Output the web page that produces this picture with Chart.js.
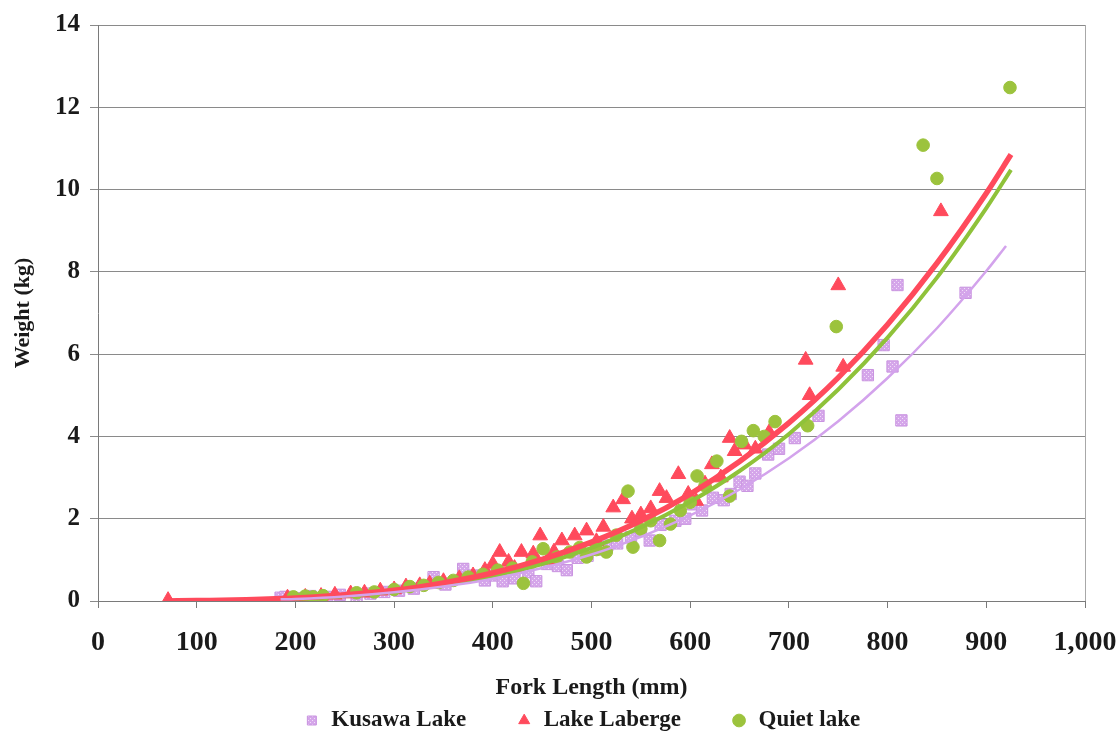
<!DOCTYPE html>
<html>
<head>
<meta charset="utf-8">
<title>Fork length vs weight</title>
<script src="https://cdn.jsdelivr.net/npm/chart.js@4.4.1/dist/chart.umd.min.js"></script>
<style>
  html, body { margin: 0; padding: 0; background: #fff; }
  canvas { display: block; }
</style>
</head>
<body>
<canvas id="weightChart" width="1118" height="742"></canvas>
<script>
// Fork length (mm) and weight (kg) per lake
const kusawaLength = [185, 190, 205, 215, 232, 245, 262, 276, 290, 305, 320, 340, 352, 370, 380, 392, 402, 410, 422, 436, 444, 455, 466, 475, 486, 496, 506, 516, 526, 540, 550, 559, 570, 585, 595, 603, 612, 623, 634, 641, 650, 658, 666, 679, 690, 706, 730, 780, 796, 805, 810, 814, 879];
const kusawaWeight = [0.08, 0.10, 0.07, 0.12, 0.10, 0.15, 0.05, 0.18, 0.22, 0.25, 0.30, 0.58, 0.40, 0.78, 0.62, 0.50, 0.62, 0.48, 0.55, 0.70, 0.48, 0.90, 0.85, 0.75, 1.05, 1.10, 1.25, 1.35, 1.40, 1.55, 1.70, 1.47, 1.85, 1.95, 2.00, 2.35, 2.20, 2.51, 2.45, 2.60, 2.90, 2.80, 3.10, 3.56, 3.70, 3.96, 4.50, 5.49, 6.22, 5.70, 7.68, 4.39, 7.49];

const labergeLength = [71, 192, 210, 226, 240, 256, 270, 286, 300, 312, 326, 336, 350, 366, 380, 392, 400, 407, 416, 422, 429, 441, 448, 456, 462, 470, 483, 495, 505, 512, 522, 532, 541, 550, 560, 569, 576, 588, 598, 606, 615, 622, 631, 640, 645, 655, 666, 680, 717, 721, 750, 755, 854];
const labergeWeight = [0.02, 0.08, 0.10, 0.12, 0.15, 0.18, 0.20, 0.25, 0.28, 0.35, 0.38, 0.42, 0.48, 0.55, 0.62, 0.75, 0.90, 1.19, 0.95, 0.80, 1.19, 1.15, 1.59, 1.00, 1.20, 1.47, 1.59, 1.71, 1.45, 1.80, 2.27, 2.47, 2.00, 2.10, 2.25, 2.67, 2.50, 3.08, 2.60, 2.43, 2.85, 3.32, 3.00, 3.96, 3.64, 3.80, 3.70, 4.10, 5.86, 5.00, 7.67, 5.69, 9.47];

const quietLength = [198, 210, 218, 228, 262, 280, 300, 316, 330, 345, 360, 375, 390, 405, 420, 431, 440, 451, 465, 478, 488, 495, 505, 515, 525, 537, 542, 550, 560, 569, 580, 590, 600, 607, 615, 627, 640, 652, 664, 675, 686, 719, 748, 836, 850, 924];
const quietWeight = [0.10, 0.12, 0.10, 0.13, 0.20, 0.22, 0.28, 0.35, 0.38, 0.45, 0.50, 0.58, 0.65, 0.75, 0.80, 0.43, 0.95, 1.27, 1.07, 1.19, 1.30, 1.07, 1.25, 1.19, 1.60, 2.67, 1.31, 1.75, 1.95, 1.47, 1.87, 2.20, 2.40, 3.04, 2.80, 3.40, 2.55, 3.88, 4.14, 4.00, 4.36, 4.26, 6.67, 11.08, 10.27, 12.48];

// power trend lines, sampled along each curve
const kusawaFitLength = [185, 200, 250, 300, 350, 400, 450, 500, 550, 600, 650, 700, 750, 800, 850, 900, 920];
const kusawaFitWeight = [0.04, 0.05, 0.11, 0.21, 0.35, 0.54, 0.80, 1.13, 1.56, 2.08, 2.71, 3.47, 4.37, 5.42, 6.63, 8.02, 8.63];
const labergeFitLength = [70, 100, 150, 200, 250, 300, 350, 400, 450, 500, 550, 600, 650, 700, 750, 800, 850, 900, 925];
const labergeFitWeight = [0.00, 0.01, 0.03, 0.07, 0.15, 0.26, 0.44, 0.68, 1.01, 1.43, 1.95, 2.60, 3.39, 4.33, 5.43, 6.72, 8.21, 9.91, 10.85];
const quietFitLength = [200, 250, 300, 350, 400, 450, 500, 550, 600, 650, 700, 750, 800, 850, 900, 925];
const quietFitWeight = [0.06, 0.12, 0.23, 0.39, 0.61, 0.90, 1.29, 1.79, 2.41, 3.16, 4.06, 5.14, 6.40, 7.86, 9.55, 10.48];

const lakeNames = ['Kusawa Lake', 'Lake Laberge', 'Quiet lake'];

const serif = "'Liberation Serif', 'Times New Roman', serif";
const pairs = (xs, ys) => xs.map((x, i) => ({ x: x, y: ys[i] }));

// lilac fill with light speckles for the Kusawa squares
function speckle() {
    const c = document.createElement('canvas');
    c.width = 4; c.height = 4;
    const g = c.getContext('2d');
    g.fillStyle = '#d5a6ea';
    g.fillRect(0, 0, 4, 4);
    g.fillStyle = '#f1dff8';
    g.fillRect(0, 0, 1, 1);
    g.fillRect(2, 2, 1, 1);
    return g.createPattern(c, 'repeat');
}

function fitLine(xs, ys, color, width) {
    return {
        type: 'line',
        data: pairs(xs, ys),
        borderColor: color,
        borderWidth: width,
        pointRadius: 0,
        fill: false,
        showLine: true,
        cubicInterpolationMode: 'monotone',
        order: 0
    };
}

const ctx = document.getElementById('weightChart');

new Chart(ctx, {
    type: 'scatter',
    data: {
        datasets: [
            {
                label: lakeNames[0],
                data: pairs(kusawaLength, kusawaWeight),
                pointStyle: 'rect',
                pointRadius: 8,
                backgroundColor: speckle(),
                borderColor: '#c994e0',
                borderWidth: 1,
                order: 3
            },
            {
                label: lakeNames[1],
                data: pairs(labergeLength, labergeWeight),
                pointStyle: 'triangle',
                pointRadius: 8.5,
                backgroundColor: '#ff4a5c',
                borderColor: '#ff4a5c',
                borderWidth: 1,
                order: 2
            },
            {
                label: lakeNames[2],
                data: pairs(quietLength, quietWeight),
                pointStyle: 'circle',
                pointRadius: 6.3,
                backgroundColor: '#9cc33d',
                borderColor: '#9cc33d',
                borderWidth: 1,
                order: 1
            },
            fitLine(kusawaFitLength, kusawaFitWeight, '#d3a3ec', 2.5),
            fitLine(labergeFitLength, labergeFitWeight, '#ff4a5c', 5.5),
            fitLine(quietFitLength, quietFitWeight, '#8fc23a', 4)
        ]
    },
    options: {
        responsive: false,
        animation: false,
        layout: {
            padding: { top: 19, right: 0, bottom: 0, left: 46 }
        },
        scales: {
            x: {
                type: 'linear',
                min: 0,
                max: 1000,
                ticks: {
                    stepSize: 100,
                    padding: 18,
                    color: '#1a1a1a',
                    font: { family: serif, size: 28, weight: 'bold' }
                },
                grid: {
                    // only the right-hand frame line is drawn inside the plot
                    color: (c) => (c.tick && c.tick.value === 1000 ? '#a8a8a8' : 'rgba(0,0,0,0)'),
                    tickColor: '#7a7a7a',
                    tickLength: 7
                },
                border: { color: '#7a7a7a' },
                title: {
                    display: true,
                    text: 'Fork Length (mm)',
                    color: '#1a1a1a',
                    font: { family: serif, size: 24, weight: 'bold' },
                    padding: { top: 0, bottom: -43 }
                },
                afterFit: (scale) => {
                    scale.height = 58;
                    scale.paddingLeft = 0;
                    scale.paddingRight = 0;
                }
            },
            y: {
                min: 0,
                max: 14,
                ticks: {
                    stepSize: 2,
                    padding: 10,
                    color: '#1a1a1a',
                    font: { family: serif, size: 25, weight: 'bold' }
                },
                grid: {
                    color: '#8a8a8a',
                    tickColor: '#8a8a8a',
                    tickLength: 8
                },
                border: { color: '#7a7a7a' },
                title: {
                    display: true,
                    text: 'Weight (kg)',
                    color: '#1a1a1a',
                    font: { family: serif, size: 22, weight: 'bold' },
                    padding: { top: -36, bottom: 0 }
                },
                afterFit: (scale) => {
                    scale.width = 52;
                }
            },
            // empty strip on the right so the plot stops at 1,000
            yRight: {
                position: 'right',
                min: 0,
                max: 14,
                ticks: { display: false },
                grid: { display: false },
                border: { display: false },
                afterFit: (scale) => {
                    scale.width = 33;
                }
            }
        },
        plugins: {
            legend: {
                position: 'bottom',
                labels: {
                    usePointStyle: true,
                    boxWidth: 16,
                    boxHeight: 9,
                    padding: 50,
                    color: '#1a1a1a',
                    font: { family: serif, size: 23, weight: 'bold' },
                    filter: (item) => item.datasetIndex < 3,
                    sort: (a, b) => a.datasetIndex - b.datasetIndex
                }
            },
            tooltip: { enabled: false }
        }
    }
});
</script>
</body>
</html>
